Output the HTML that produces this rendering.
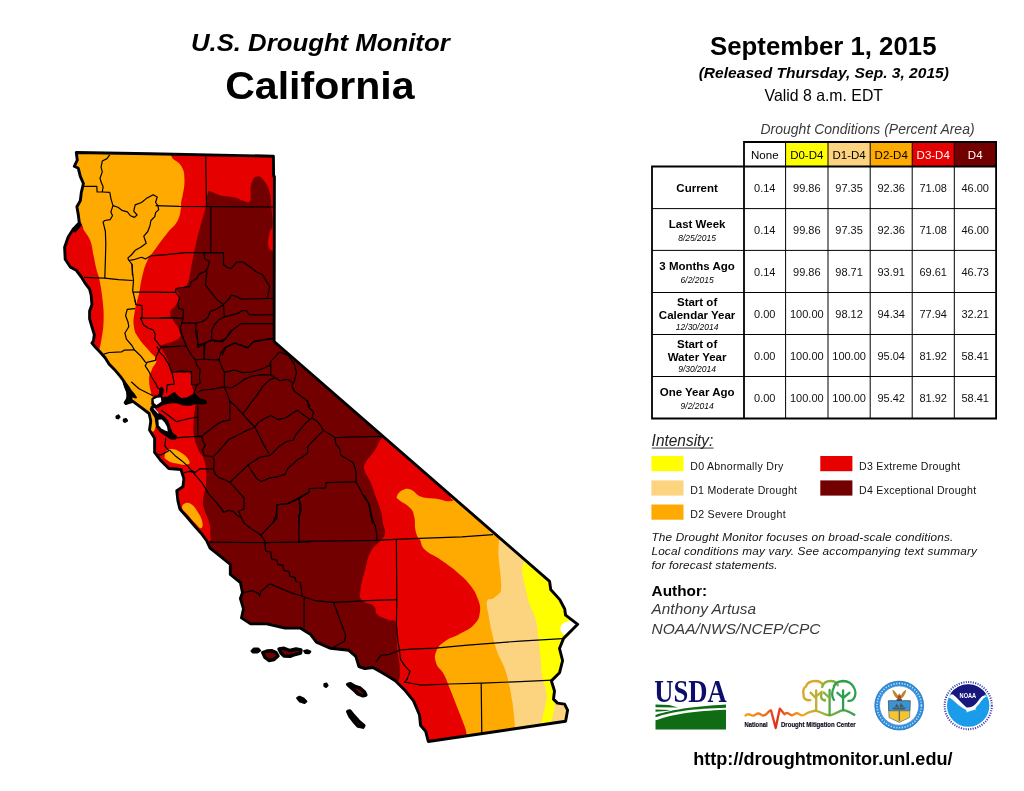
<!DOCTYPE html>
<html><head><meta charset="utf-8"><title>U.S. Drought Monitor - California</title>
<style>
html,body{margin:0;padding:0;background:#fff;}
body{width:1024px;height:791px;position:relative;overflow:hidden;font-family:"Liberation Sans",Arial,sans-serif;color:#000;}
.t{position:absolute;white-space:nowrap;line-height:1;}
.c{text-align:center;}
</style></head><body>
<svg width="1024" height="791" viewBox="0 0 1024 791" style="position:absolute;left:0;top:0">
<defs><clipPath id="st"><polygon points="76.3,152.5 150.0,153.8 273.4,156.2 273.6,176.0 274.4,176.5 274.1,341.5 549.6,581.4 550.7,589.5 559.8,599.6 564.7,609.0 565.6,615.2 577.7,624.3 563.6,638.4 559.5,648.5 562.6,660.7 559.5,672.8 551.4,680.9 554.5,691.0 553.5,699.1 557.5,703.1 564.6,704.1 567.6,710.2 565.6,721.3 428.3,741.5 425.6,731.2 420.5,725.2 419.5,715.0 413.5,700.9 405.4,690.8 395.3,680.7 385.2,674.6 373.0,667.5 364.9,668.5 358.9,666.5 355.8,656.4 348.8,650.3 330.6,648.3 316.4,642.2 310.3,634.2 300.2,628.1 284.9,628.0 266.7,623.9 250.6,623.9 241.5,617.9 243.5,608.8 240.4,598.6 242.5,592.6 240.4,582.5 230.3,574.4 230.3,564.3 220.2,556.2 210.1,548.1 206.5,540.5 201.1,533.2 194.0,525.2 187.0,517.0 179.9,509.0 177.9,500.9 176.8,490.8 182.9,486.7 183.9,478.6 180.9,469.5 168.8,468.5 160.7,460.4 154.6,452.4 154.6,438.2 149.5,430.1 150.8,421.0 149.1,413.5 141.0,407.4 132.9,401.3 126.4,403.4 128.9,393.2 126.4,388.0 124.1,381.5 120.1,376.1 115.4,370.6 109.2,364.3 105.3,358.0 99.8,351.8 95.9,347.8 91.9,343.1 93.5,340.8 94.3,334.5 91.9,326.7 89.6,318.9 89.6,311.0 91.9,304.7 91.2,295.3 89.6,289.1 84.9,282.8 81.0,276.5 76.3,270.3 70.5,267.3 65.2,259.3 64.6,247.2 68.2,237.0 73.3,229.0 79.3,222.9 78.3,214.8 76.9,206.7 80.3,200.7 81.3,192.6 83.4,183.5 80.3,176.4 78.3,168.3 74.3,166.3 77.3,160.2"/></clipPath></defs>
<g clip-path="url(#st)">
<rect x="50" y="140" width="540" height="620" fill="#e60000"/>
<path d="M207.6 193.6 C208.8 190.1 207.6 191.1 210.7 191.6 C213.8 192.1 215.2 194.2 220.8 195.6 C226.4 197.0 229.7 196.4 234.9 197.6 C240.1 198.8 239.5 200.0 243.0 200.7 C246.5 201.4 248.2 204.5 250.1 200.7 C252.0 196.9 249.4 190.2 251.1 184.5 C252.8 178.8 253.9 176.9 257.2 176.4 C260.5 175.9 262.2 178.3 265.3 182.5 C268.4 186.7 268.9 189.0 270.3 194.6 C271.7 200.2 270.8 199.6 271.3 206.7 C271.8 213.8 272.9 219.1 272.5 225.0 C272.1 230.9 270.8 227.3 269.8 232.0 C268.8 236.7 267.6 240.6 268.2 245.0 C268.8 249.4 269.3 249.1 272.5 251.0 C275.7 252.9 279.1 246.2 282.0 253.0 C284.9 259.8 284.3 266.7 285.0 280.0 C285.7 293.3 285.0 297.2 285.0 310.0 C285.0 322.8 281.5 325.2 285.0 335.0 C288.5 344.8 287.2 339.9 300.0 352.0 C312.8 364.1 318.5 368.3 340.0 387.0 C361.5 405.7 382.2 420.1 392.0 432.0 C401.8 443.9 385.9 433.9 381.9 438.2 C377.9 442.5 378.6 444.6 374.8 450.3 C371.0 456.0 368.1 457.8 365.7 462.5 C363.3 467.2 363.5 465.9 364.7 470.6 C365.9 475.3 368.2 476.6 370.8 482.7 C373.4 488.8 373.4 490.2 375.8 496.8 C378.2 503.4 379.2 504.9 380.9 511.0 C382.6 517.1 382.0 517.9 382.9 523.1 C383.8 528.3 385.4 529.2 384.9 533.2 C384.4 537.2 384.2 536.1 380.9 540.3 C377.6 544.5 374.4 544.9 370.8 551.4 C367.2 557.9 368.0 558.9 365.6 568.0 C363.2 577.1 361.1 583.0 360.4 590.6 C359.7 598.2 359.4 597.2 362.5 600.7 C365.6 604.2 370.1 602.4 373.6 605.7 C377.1 609.0 374.1 611.5 377.6 614.8 C381.1 618.1 384.6 618.0 388.8 619.9 C393.0 621.8 393.9 618.0 395.8 622.9 C397.7 627.8 396.3 634.0 396.8 641.1 C397.3 648.2 397.2 647.5 397.9 653.2 C398.6 658.9 399.3 659.5 399.6 665.4 C399.9 671.3 400.6 673.8 399.3 678.6 C398.0 683.4 398.5 679.8 394.0 686.0 C389.5 692.2 427.6 700.6 380.0 705.0 C332.4 709.4 234.3 742.3 190.0 705.0 C145.7 667.7 185.8 583.2 190.0 545.0 C194.2 506.8 203.5 543.6 208.2 541.3 C212.9 539.0 210.0 539.5 210.2 535.3 C210.4 531.1 210.6 529.2 209.2 523.1 C207.8 517.0 205.5 514.6 204.1 509.0 C202.7 503.4 202.6 505.5 203.1 498.9 C203.6 492.3 205.9 489.5 206.2 480.7 C206.5 471.9 206.3 468.2 204.5 461.0 C202.7 453.8 200.9 455.8 198.5 450.0 C196.1 444.2 195.1 443.0 194.0 436.0 C192.9 429.0 193.5 426.5 193.7 420.0 C193.9 413.5 194.6 413.3 195.0 408.0 C195.4 402.7 196.4 402.6 195.6 397.3 C194.8 392.0 192.8 390.6 191.6 385.2 C190.4 379.8 192.9 376.8 190.5 374.0 C188.1 371.2 185.9 373.7 181.4 373.0 C176.9 372.3 174.6 374.3 171.3 371.0 C168.0 367.7 169.9 364.8 167.3 358.9 C164.7 353.0 161.2 349.0 160.2 345.7 C159.2 342.4 159.0 346.4 163.2 344.7 C167.4 343.0 174.6 341.9 178.4 338.6 C182.2 335.3 180.6 334.8 179.4 330.6 C178.2 326.4 175.5 324.6 173.4 320.4 C171.3 316.2 169.6 316.2 170.3 312.4 C171.0 308.6 174.3 308.1 176.4 304.3 C178.5 300.5 179.4 299.9 179.4 296.2 C179.4 292.5 175.4 290.7 176.4 288.6 C177.4 286.5 180.8 288.4 183.5 287.0 C186.2 285.6 186.1 287.5 188.0 282.5 C189.9 277.5 189.7 274.1 191.5 265.4 C193.3 256.7 193.5 254.6 195.6 245.2 C197.7 235.8 198.3 233.9 200.7 224.9 C203.1 215.9 204.1 214.0 205.7 206.7 C207.3 199.4 206.4 197.1 207.6 193.6Z" fill="#730000" />
<path d="M171.0 145.0 C197.0 147.6 168.9 151.2 171.3 156.2 C173.7 161.2 178.3 160.7 181.4 166.3 C184.5 171.9 184.3 173.3 184.5 180.4 C184.7 187.5 183.1 191.9 182.4 196.6 C181.7 201.3 182.3 195.5 181.4 200.7 C180.5 205.9 181.7 211.4 178.4 218.9 C175.1 226.4 172.7 225.9 167.3 233.0 C161.9 240.1 159.9 242.6 155.2 249.2 C150.5 255.8 150.2 254.7 147.1 261.3 C144.0 267.9 143.9 269.9 142.0 277.5 C140.1 285.1 140.7 286.0 139.0 293.7 C137.3 301.4 136.1 302.6 134.9 310.3 C133.7 318.0 132.9 319.9 133.9 326.5 C134.9 333.1 135.5 332.9 139.0 338.6 C142.5 344.3 145.1 345.8 149.1 350.8 C153.1 355.8 155.5 355.7 156.2 359.9 C156.9 364.1 153.8 364.5 152.1 369.0 C150.4 373.5 149.3 373.5 149.1 379.1 C148.9 384.7 150.3 389.2 151.1 393.2 C151.9 397.2 151.8 394.2 152.5 396.3 C153.2 398.4 153.9 399.3 154.0 402.0 C154.1 404.7 153.5 405.0 153.0 408.0 C152.5 411.0 155.0 412.7 152.0 415.0 C149.0 417.3 147.5 418.7 140.0 418.0 C132.5 417.3 132.8 427.9 120.0 412.0 C107.2 396.1 90.0 364.5 85.0 350.0 C80.0 335.5 95.1 350.1 98.5 349.8 C101.9 349.5 98.8 351.4 99.5 348.8 C100.2 346.2 100.6 345.2 101.6 338.6 C102.6 332.0 103.4 329.4 103.6 320.4 C103.8 311.4 103.6 309.6 102.6 300.2 C101.6 290.8 100.9 287.2 99.5 280.0 C98.1 272.8 97.9 275.2 96.5 269.4 C95.1 263.6 94.9 261.9 93.5 255.3 C92.1 248.7 92.5 246.8 90.4 241.1 C88.3 235.4 87.0 235.0 84.4 231.0 C81.8 227.0 85.0 226.0 79.3 223.9 C73.6 221.8 64.5 240.4 60.0 222.0 C55.5 203.6 34.1 163.0 60.0 145.0 C85.9 127.0 145.0 142.4 171.0 145.0Z" fill="#ffaa00" />
<path d="M150.0 417.0 C151.1 414.0 154.3 414.2 155.5 417.0 C156.7 419.8 156.1 426.0 155.0 429.0 C153.9 432.0 152.2 432.8 151.0 430.0 C149.8 427.2 148.9 420.0 150.0 417.0Z" fill="#ffaa00" />
<path d="M164.7 455.4 C165.2 452.8 166.0 450.0 169.8 449.3 C173.6 448.6 176.4 449.8 180.9 452.4 C185.4 455.0 187.6 457.6 189.0 460.4 C190.4 463.2 189.8 463.8 187.0 464.5 C184.2 465.2 181.3 464.5 176.8 463.5 C172.3 462.5 170.5 462.3 167.7 460.4 C164.9 458.5 164.2 458.0 164.7 455.4Z" fill="#ffaa00" />
<path d="M183.9 503.9 C185.9 502.7 187.9 502.2 191.0 503.9 C194.1 505.6 194.5 507.0 197.1 511.0 C199.7 515.0 201.2 517.1 202.1 521.1 C203.0 525.1 202.8 527.7 201.1 528.2 C199.4 528.7 198.3 526.4 195.0 523.1 C191.7 519.8 189.9 517.3 187.0 514.0 C184.1 510.7 183.2 511.4 182.5 509.0 C181.8 506.6 181.9 505.1 183.9 503.9Z" fill="#ffaa00" />
<path d="M470.0 495.0 C435.4 496.4 459.3 500.0 451.7 500.9 C444.1 501.8 444.6 499.9 437.5 498.9 C430.4 497.9 427.4 498.9 421.3 496.8 C415.2 494.7 415.4 491.4 411.2 489.8 C407.0 488.2 406.4 488.4 403.1 489.8 C399.8 491.2 398.0 493.4 397.1 495.8 C396.2 498.2 396.0 497.1 399.1 499.9 C402.2 502.7 406.7 504.0 410.2 508.0 C413.7 512.0 413.1 512.2 414.3 517.1 C415.5 522.0 414.4 524.3 415.3 529.2 C416.2 534.1 417.2 535.8 418.3 538.3 C419.4 540.8 418.5 537.2 420.1 540.0 C421.7 542.8 420.3 545.4 425.2 550.1 C430.1 554.8 433.8 555.0 441.3 560.2 C448.8 565.4 450.9 566.7 457.5 572.4 C464.1 578.1 464.9 578.4 469.6 584.5 C474.3 590.6 475.3 592.0 477.7 598.6 C480.1 605.2 480.7 606.7 479.8 612.8 C478.9 618.9 478.4 620.0 473.7 624.9 C469.0 629.8 466.1 630.2 459.5 634.0 C452.9 637.8 450.8 637.1 445.4 641.1 C440.0 645.1 438.4 646.0 436.3 651.2 C434.2 656.4 434.6 658.2 436.3 663.4 C438.0 668.6 440.3 667.9 443.4 673.5 C446.5 679.1 446.4 680.2 449.4 687.6 C452.4 695.0 453.1 696.8 456.4 705.2 C459.7 713.6 461.1 716.8 463.5 723.4 C465.9 730.0 465.4 727.3 466.5 733.5 C467.6 739.7 436.9 746.1 468.0 750.0 C499.1 753.9 569.2 809.5 600.0 750.0 C630.8 690.5 630.3 554.5 600.0 495.0 C569.7 435.5 504.6 493.6 470.0 495.0Z" fill="#ffaa00" />
<path d="M500.0 530.0 C476.5 532.1 499.5 533.2 499.1 539.0 C498.8 544.8 498.2 546.6 498.5 555.0 C498.8 563.4 499.9 567.0 500.5 575.0 C501.1 583.0 501.4 585.2 501.0 589.5 C500.6 593.8 500.9 591.4 499.0 593.5 C497.1 595.6 495.8 596.6 493.0 598.5 C490.2 600.4 488.0 597.3 487.0 601.5 C486.0 605.7 487.6 609.1 488.8 616.5 C490.0 623.9 490.1 625.0 492.0 633.0 C493.9 641.0 494.1 642.8 497.0 651.0 C499.9 659.2 501.7 660.3 504.5 668.0 C507.3 675.7 507.2 676.5 509.0 684.0 C510.8 691.5 511.1 694.6 512.0 700.0 C512.9 705.4 512.3 700.6 513.0 707.0 C513.7 713.4 514.3 718.5 515.0 727.4 C515.7 736.3 496.2 740.9 516.0 745.0 C535.8 749.1 580.4 795.2 600.0 745.0 C619.6 694.8 623.3 580.2 600.0 530.0 C576.7 479.8 523.5 527.9 500.0 530.0Z" fill="#fcd37f" />
<path d="M527.0 555.0 C509.3 556.6 525.1 558.2 524.0 562.0 C522.9 565.8 522.0 565.3 522.3 571.3 C522.6 577.2 523.7 579.9 525.4 587.5 C527.1 595.1 527.1 596.5 529.4 603.7 C531.7 610.9 533.2 610.6 535.3 618.2 C537.4 625.8 537.1 627.4 538.3 636.4 C539.5 645.4 539.4 647.2 540.3 656.6 C541.2 666.0 540.9 668.3 542.3 676.8 C543.7 685.3 545.7 686.4 546.4 693.0 C547.1 699.6 546.6 698.1 545.4 705.2 C544.2 712.3 542.4 715.3 541.3 723.4 C540.2 731.5 526.8 736.1 540.5 740.0 C554.2 743.9 586.1 783.2 600.0 740.0 C613.9 696.8 617.0 598.2 600.0 555.0 C583.0 511.8 544.7 553.4 527.0 555.0Z" fill="#ffff00" />
<path d="M557.5 702.0 C551.5 704.1 555.7 705.6 554.5 709.2 C553.3 712.8 553.3 714.2 552.5 717.3 C551.7 720.4 551.6 718.2 551.2 722.3 C550.9 726.4 544.3 732.0 551.0 735.0 C557.7 738.0 573.2 743.2 580.0 735.0 C586.8 726.8 585.2 707.7 580.0 700.0 C574.8 692.3 563.5 699.9 557.5 702.0Z" fill="#fcd37f" />
<path d="M560.5 627.3 C561.0 624.5 562.5 623.8 565.6 622.2 C568.7 620.6 569.9 621.0 573.7 620.5 C577.5 620.0 580.1 618.2 582.0 620.0 C583.9 621.8 584.9 625.1 582.0 628.0 C579.1 630.9 573.9 630.9 569.6 632.4 C565.3 633.9 565.7 635.6 563.6 634.4 C561.5 633.2 560.0 630.1 560.5 627.3Z" fill="#ffffff" />
</g>
<g fill="none" stroke="#000" stroke-width="1.2" stroke-linejoin="round" clip-path="url(#st)">
<path d="M109.8 154.7 L107.0 158.6 L102.3 161.0 L101.1 167.2 L102.3 171.9 L100.0 178.2 L101.1 182.1 L103.1 186.8 L102.3 192.0"/>
<path d="M83.5 186.4 L96.8 186.4 L97.1 192.0 L102.3 192.0 L109.8 192.3"/>
<path d="M109.8 192.3 L110.9 198.6 L113.0 205.6 L110.9 211.9 L112.5 215.8 L110.1 219.7 L104.7 220.5 L103.1 222.1 L105.4 231.5 L105.8 244.0 L105.4 259.7 L104.8 278.5"/>
<path d="M129.0 260.5 L132.1 264.4 L132.4 275.4"/>
<path d="M113.0 205.6 L118.0 207.2 L121.9 210.3 L127.4 211.9 L130.5 215.8 L134.4 217.4 L137.1 215.0 L133.7 211.1 L135.2 204.9 L141.5 202.5 L146.2 198.6 L153.2 194.7 L157.2 197.0 L155.6 202.5 L157.9 205.6"/>
<path d="M155.6 205.6 L179.1 206.4 L220.0 206.7 L274.7 207.0"/>
<path d="M157.9 205.6 L158.7 209.6 L155.6 212.7 L154.8 216.6 L150.9 220.5 L150.1 225.2 L147.8 231.5 L143.8 236.2 L146.2 243.2 L140.7 247.2 L135.2 250.3 L131.3 255.0 L127.7 258.1"/>
<path d="M127.7 258.1 L129.0 260.5 L133.7 259.7 L141.5 257.3 L145.4 258.9 L150.9 255.8 L166.6 254.7 L185.4 252.6 L202.6 252.6 L220.0 252.6"/>
<path d="M205.7 156.3 L206.1 181.3 L206.5 206.4"/>
<path d="M210.8 206.7 L210.8 252.6"/>
<path d="M203.9 252.7 L223.5 252.7 L223.5 264.5 L227.4 267.6 L231.3 268.4 L236.8 262.1 L243.1 262.1 L250.9 267.6 L257.2 272.3 L262.6 274.7 L265.8 280.1 L269.7 286.4 L267.3 298.5"/>
<path d="M273.6 298.5 L267.3 298.5 L241.5 299.1 L236.8 296.6 L231.3 295.0 L229.0 299.0 L223.5 304.4"/>
<path d="M203.9 252.7 L204.7 259.0 L209.4 261.3 L207.8 267.6 L205.4 271.5 L199.2 273.9 L196.8 278.6 L191.3 281.7 L189.8 286.7 L175.7 288.5"/>
<path d="M160.0 292.4 L175.7 292.4"/>
<path d="M175.7 288.5 L175.7 292.4 L176.5 293.5 L179.6 297.4 L177.7 303.7 L178.8 308.4 L183.5 309.9 L183.2 317.8 L181.9 322.8"/>
<path d="M207.0 271.1 L205.4 284.9 L210.1 291.1 L216.4 299.0 L223.5 304.4"/>
<path d="M223.5 304.4 L220.3 306.8 L214.9 309.9 L210.1 311.5 L207.8 317.8 L202.3 321.7 L196.0 323.2 L181.9 322.9"/>
<path d="M223.5 304.9 L224.3 317.0 L218.8 320.1 L214.9 324.0 L211.7 330.3 L211.7 339.7"/>
<path d="M224.3 317.0 L230.5 315.4 L238.4 313.1 L241.5 310.7 L246.2 310.7 L249.3 314.6 L260.3 314.9 L273.6 314.6"/>
<path d="M211.7 339.7 L214.9 341.3 L222.7 341.6 L227.4 336.6 L232.1 330.3 L238.4 325.6 L241.5 323.6 L273.6 323.6"/>
<path d="M160.0 318.1 L171.8 317.3 L181.9 318.5"/>
<path d="M181.9 322.8 L180.4 327.2 L181.2 333.4 L183.5 338.1"/>
<path d="M196.0 323.2 L195.7 331.9 L197.6 339.7 L197.6 347.5"/>
<path d="M197.6 347.5 L205.4 342.8 L211.7 339.7"/>
<path d="M203.9 343.1 L203.9 355.4"/>
<path d="M221.9 355.4 L225.8 347.5 L235.2 342.8 L241.5 346.0 L247.8 347.5 L254.0 341.3 L263.4 339.7 L273.6 338.1"/>
<path d="M84.1 277.3 L104.5 278.1"/>
<path d="M104.5 278.1 L118.6 279.7 L132.7 280.5"/>
<path d="M131.9 264.0 L132.7 273.4 L133.5 280.5 L132.7 290.6 L135.0 300.0 L135.8 304.7"/>
<path d="M132.7 292.2 L160.9 292.2"/>
<path d="M135.0 308.7 L127.2 309.4 L125.6 315.7 L128.0 322.0 L128.8 326.7 L124.9 333.0 L126.4 339.2 L131.9 345.5 L134.3 349.7 L140.5 355.7 L145.2 361.9 L146.8 363.0"/>
<path d="M135.0 300.0 L135.8 304.7 L142.1 305.5 L142.1 317.3 L140.5 318.1"/>
<path d="M140.5 318.1 L182.8 318.1"/>
<path d="M140.5 318.1 L143.7 325.1 L148.4 328.3 L153.1 329.8 L155.4 334.5 L154.6 339.2 L158.5 343.9 L160.9 347.1"/>
<path d="M103.7 354.1 L109.2 352.5 L121.7 351.8 L124.1 350.2 L134.3 349.9"/>
<path d="M146.8 362.4 L155.4 360.4 L156.2 356.5 L158.5 351.8 L160.9 347.1"/>
<path d="M146.8 363.0 L145.2 365.9 L148.4 370.6 L151.5 376.8 L155.4 383.1 L157.8 388.0 L161.1 389.4"/>
<path d="M160.9 347.1 L173.4 346.6 L186.8 345.8"/>
<path d="M179.8 330.0 L183.7 339.4 L186.8 347.2 L191.5 355.1 L195.4 359.8 L197.0 366.0 L200.1 369.2 L199.4 377.0 L200.1 383.3 L197.0 384.9 L193.9 392.7 L197.0 399.0"/>
<path d="M157.1 346.5 L159.4 351.9 L164.1 356.6 L168.8 364.5 L171.2 370.7 L172.7 375.4 L174.3 384.1 L167.2 384.9 L166.5 392.7"/>
<path d="M171.9 372.3 L181.3 371.1 L191.5 371.5 L191.5 384.5 L197.0 384.9"/>
<path d="M197.0 330.0 L197.8 344.9 L204.9 343.3 L204.1 359.0 L196.2 359.8"/>
<path d="M204.9 343.3 L212.7 340.2 L219.0 341.0 L225.2 339.4 L228.4 334.7 L231.5 330.0"/>
<path d="M204.1 359.3 L219.0 359.8"/>
<path d="M219.0 359.8 L220.5 353.5 L225.2 347.2 L234.6 343.3 L240.9 344.9 L247.2 348.0 L253.4 341.8 L262.8 340.2 L273.8 338.6"/>
<path d="M219.0 359.8 L222.1 367.6 L224.4 372.3 L224.4 386.7"/>
<path d="M224.4 372.3 L234.6 370.0 L242.5 372.6 L251.9 372.0 L261.3 369.2 L269.9 365.3 L270.7 361.3 L275.4 356.6 L279.3 351.9"/>
<path d="M270.7 362.9 L270.7 375.0"/>
<path d="M224.4 386.9 L231.5 388.0 L239.3 383.3 L245.6 378.6 L251.9 376.2 L262.8 374.7 L270.7 375.0 L275.4 377.8 L280.1 380.9 L286.3 379.4 L289.5 380.1 L292.6 383.3"/>
<path d="M197.0 392.7 L201.7 390.3 L212.7 389.2 L224.4 386.9"/>
<path d="M224.4 386.9 L226.8 392.7 L229.9 401.3 L229.9 420.4"/>
<path d="M229.9 401.3 L236.2 406.8 L242.5 413.8 L250.3 422.5 L255.0 427.2"/>
<path d="M242.5 413.8 L247.2 408.4 L250.3 403.7 L256.6 395.8 L262.8 386.4 L269.1 380.1 L275.4 377.8"/>
<path d="M279.3 351.9 L287.9 355.1 L294.2 363.7 L296.5 372.3 L294.2 381.7 L291.8 385.6 L294.2 391.1 L300.4 395.8 L306.7 400.5 L310.0 406.8"/>
<path d="M255.0 427.2 L258.1 422.5 L266.0 417.8 L270.0 416.2"/>
<path d="M255.0 427.2 L247.2 430.3 L237.8 435.0 L228.4 439.7"/>
<path d="M255.0 427.2 L259.7 436.6 L264.4 446.0 L269.1 454.0"/>
<path d="M229.9 420.4 L223.7 420.9 L217.4 424.0 L211.1 428.7 L203.3 435.0 L201.7 436.6"/>
<path d="M201.7 436.6 L197.0 436.3 L181.3 437.3 L173.5 438.1"/>
<path d="M197.8 405.2 L197.8 435.0 L201.7 436.6 L203.0 439.7"/>
<path d="M161.0 409.9 L167.2 414.6 L176.6 421.7 L189.2 418.5 L197.8 417.0"/>
<path d="M165.7 438.1 L164.9 446.0 L168.8 450.7"/>
<path d="M131.2 381.7 L139.0 388.8 L148.4 393.5 L153.1 395.8"/>
<path d="M307.6 400.0 L308.4 407.1 L313.6 411.8 L312.0 418.0 L310.0 419.6"/>
<path d="M270.0 414.9 L277.8 419.6 L285.7 418.0 L293.5 412.5 L297.4 410.2 L303.7 414.9 L310.0 419.6"/>
<path d="M312.0 418.0 L317.0 421.2 L320.9 425.9 L323.3 430.6 L330.3 434.5 L335.0 437.6"/>
<path d="M335.0 437.6 L356.2 436.8 L382.8 436.4"/>
<path d="M335.0 437.6 L335.8 443.9 L339.7 448.6 L340.5 454.9 L346.8 458.8 L353.1 462.7 L355.4 469.0 L356.2 475.2 L355.9 481.8"/>
<path d="M355.9 481.8 L360.1 489.3 L364.0 497.2 L368.7 503.4 L370.3 512.8 L372.6 524.0"/>
<path d="M355.9 481.8 L326.1 482.6 L325.6 487.8 L309.2 488.5 L308.9 492.5 L299.8 497.9 L290.4 502.6 L285.7 504.2 L277.1 504.5 L276.3 514.4 L272.4 524.0"/>
<path d="M299.3 498.4 L299.8 509.7 L299.0 524.0"/>
<path d="M310.0 419.6 L306.0 422.7 L300.6 429.0 L295.9 434.5 L293.5 440.0 L286.5 441.5 L279.4 446.2 L273.1 452.5 L270.0 455.6"/>
<path d="M322.5 431.3 L317.0 436.8 L310.0 443.9 L307.6 447.0 L307.6 453.3 L302.1 457.2 L297.4 459.6 L293.5 463.5 L288.0 468.2 L284.9 474.4 L277.8 476.8 L270.0 477.9"/>
<path d="M169.6 450.2 L175.1 455.7 L181.3 460.4 L187.6 465.9 L191.5 470.6 L195.4 472.4"/>
<path d="M154.7 454.1 L161.0 454.9 L165.7 452.5 L169.6 450.2"/>
<path d="M183.7 472.9 L189.2 471.3 L195.4 472.4 L200.1 468.7 L213.5 469.0"/>
<path d="M202.5 440.0 L205.2 445.5 L202.5 450.2 L204.1 455.7 L211.9 456.5 L214.3 459.6 L213.5 469.0"/>
<path d="M213.5 456.5 L219.0 451.0 L224.4 444.7 L228.4 440.0"/>
<path d="M213.5 469.0 L215.0 473.7 L219.0 477.6 L225.2 480.0 L229.9 482.3"/>
<path d="M229.9 482.3 L247.9 465.1 L259.7 457.2 L270.0 455.5"/>
<path d="M247.9 465.1 L251.9 471.3 L256.6 478.4 L261.3 481.5 L270.0 477.9"/>
<path d="M229.9 482.3 L237.8 490.9 L244.0 498.0 L244.0 509.0 L238.5 511.3 L240.9 516.8"/>
<path d="M192.3 471.3 L197.0 476.8 L201.7 482.3 L205.6 488.6 L208.8 494.1 L215.8 501.9 L220.5 507.4 L223.7 512.4 L228.4 510.5 L233.1 511.3 L237.8 516.0 L240.9 516.8"/>
<path d="M240.9 516.8 L244.0 523.1 L251.9 529.3 L259.7 534.0 L263.6 538.7 L265.2 542.6"/>
<path d="M209.6 542.2 L265.2 542.6 L310.0 541.9"/>
<path d="M261.3 534.8 L276.9 518.4 L276.6 505.0 L287.9 503.5 L298.1 498.0 L306.7 493.3 L310.0 491.7"/>
<path d="M298.1 498.0 L301.2 505.8 L300.4 513.7 L298.9 515.2 L298.9 541.9"/>
<path d="M264.7 541.4 L265.7 551.1 L270.8 552.1 L271.8 559.2 L276.8 560.2 L277.9 564.3 L282.9 565.3 L283.9 570.3 L289.0 571.3 L290.0 576.4 L295.0 577.4 L296.1 581.5 L300.1 582.5 L301.1 587.5 L302.1 596.0"/>
<path d="M243.5 592.6 L252.6 590.6 L258.6 593.6 L259.7 596.6 L260.7 591.6 L268.8 584.5 L270.8 584.1 L280.9 588.5 L291.0 592.6 L302.1 596.2"/>
<path d="M302.1 596.2 L315.3 600.7 L333.5 602.3 L367.8 600.7 L397.2 599.7"/>
<path d="M304.1 597.6 L304.1 627.4"/>
<path d="M333.5 602.3 L339.5 618.9 L345.6 635.0 L344.6 641.1 L331.4 648.2"/>
<path d="M300.0 541.3 L376.8 540.3 L395.0 539.3 L419.3 538.3 L461.8 536.9 L493.1 534.7"/>
<path d="M364.4 495.3 L366.8 500.0 L369.9 506.3 L371.5 515.7 L375.4 526.6 L377.0 536.0 L375.9 541.1"/>
<path d="M396.4 540.0 L396.8 600.7 L396.4 624.9 L397.9 641.1 L399.5 650.2"/>
<path d="M399.5 650.2 L389.8 654.3 L380.7 655.3 L375.6 662.3"/>
<path d="M399.5 650.2 L411.0 649.2 L435.3 648.2 L467.6 645.2 L493.9 643.1 L520.0 641.1 L562.7 638.7"/>
<path d="M399.5 650.2 L400.5 659.3 L404.9 665.8 L410.0 671.4 L407.0 679.5 L403.9 682.6"/>
<path d="M403.9 682.0 L415.0 684.0 L421.1 685.2 L449.4 684.0 L481.8 683.2 L520.0 681.6 L552.6 680.1"/>
<path d="M481.2 683.6 L481.8 734.1"/>
</g>
<g id="bay" stroke="#000" stroke-width="1.9" stroke-linejoin="round">
<path d="M161.5 387.8 L162.8 389.5 L162.3 393 L161 396.5 L163 398 L168 397.5 L172.5 394 L174.5 393.2 L177 396 L181 399 L187 398.5 L192 395.5 L194.5 394.2 L197 397 L200.5 399.5 L205.5 401 L206 403 L200 403.5 L196 403 L190 404.8 L183 404.6 L178 402.5 L172 402 L167 403 L162 404.5 L158 407 L154.5 407.5 L152.2 404 L152.3 399 L155 396.8 L158.5 396 L160 393 L160 389 Z" fill="#000"/>
<path d="M153.6 399.4 L157 397.8 L160.8 397.6 L161.4 401.4 L158.8 403.6 L156.4 405 L154 403 Z" fill="#fff" stroke="none"/>
<path d="M152 406.5 L158.8 413.8 L163 416.5 L167.6 421.5 L170 429 L172 433.5 L176 436.2 L175.5 438.6 L171 438.6 L165.5 435 L160.5 431.5 L157 427 L156 421 L155.6 417.6 L153 413 L150.6 409.5 Z" fill="#000"/>
<path d="M158.4 419.8 L161.8 419.6 L164.6 422.6 L167 426.8 L167.8 431.4 L165 430.6 L161.4 428.4 L158.8 425.6 Z" fill="#fff" stroke="none"/>
<path d="M153.4 408.4 L154.4 408 L158.8 413 L158.2 413.8 Z" fill="#fff" stroke="none"/>
<path d="M123.3 381.5 L125.5 383 L128.2 386.6 L130.5 390.5 L134 394.5 L136 397.5 L131 396.2 L131.8 400.5 L128.5 402 L125.6 404 L124.6 402.6 L127.6 398 L127 392 L125 387 Z" fill="#000"/>
<path d="M79.3 222.3 L81 224.6 L77.8 228.6 L74.8 231.6 L73.6 230 L76.2 225.6 Z" fill="#000"/>
</g>

<polygon points="76.3,152.5 150.0,153.8 273.4,156.2 273.6,176.0 274.4,176.5 274.1,341.5 549.6,581.4 550.7,589.5 559.8,599.6 564.7,609.0 565.6,615.2 577.7,624.3 563.6,638.4 559.5,648.5 562.6,660.7 559.5,672.8 551.4,680.9 554.5,691.0 553.5,699.1 557.5,703.1 564.6,704.1 567.6,710.2 565.6,721.3 428.3,741.5 425.6,731.2 420.5,725.2 419.5,715.0 413.5,700.9 405.4,690.8 395.3,680.7 385.2,674.6 373.0,667.5 364.9,668.5 358.9,666.5 355.8,656.4 348.8,650.3 330.6,648.3 316.4,642.2 310.3,634.2 300.2,628.1 284.9,628.0 266.7,623.9 250.6,623.9 241.5,617.9 243.5,608.8 240.4,598.6 242.5,592.6 240.4,582.5 230.3,574.4 230.3,564.3 220.2,556.2 210.1,548.1 206.5,540.5 201.1,533.2 194.0,525.2 187.0,517.0 179.9,509.0 177.9,500.9 176.8,490.8 182.9,486.7 183.9,478.6 180.9,469.5 168.8,468.5 160.7,460.4 154.6,452.4 154.6,438.2 149.5,430.1 150.8,421.0 149.1,413.5 141.0,407.4 132.9,401.3 126.4,403.4 128.9,393.2 126.4,388.0 124.1,381.5 120.1,376.1 115.4,370.6 109.2,364.3 105.3,358.0 99.8,351.8 95.9,347.8 91.9,343.1 93.5,340.8 94.3,334.5 91.9,326.7 89.6,318.9 89.6,311.0 91.9,304.7 91.2,295.3 89.6,289.1 84.9,282.8 81.0,276.5 76.3,270.3 70.5,267.3 65.2,259.3 64.6,247.2 68.2,237.0 73.3,229.0 79.3,222.9 78.3,214.8 76.9,206.7 80.3,200.7 81.3,192.6 83.4,183.5 80.3,176.4 78.3,168.3 74.3,166.3 77.3,160.2" fill="none" stroke="#000" stroke-width="2.9" stroke-linejoin="round"/>
<polygon points="251.6,651.0 254.0,648.5 258.0,648.5 260.0,650.5 257.0,652.5 253.0,652.5" fill="#000" stroke="#000" stroke-width="2.2" stroke-linejoin="round"/>
<polygon points="262.7,652.5 267.0,651.0 272.0,650.8 276.0,652.5 278.0,656.0 274.0,659.5 269.0,660.5 265.0,657.5" fill="#730000" stroke="#000" stroke-width="3.4" stroke-linejoin="round"/>
<polygon points="279.0,649.0 284.0,648.3 290.0,650.5 296.0,649.0 301.0,650.0 300.5,653.0 295.0,654.5 290.0,656.3 284.0,656.0 281.0,653.0" fill="#730000" stroke="#000" stroke-width="3.4" stroke-linejoin="round"/>
<polygon points="304.2,651.0 307.0,650.3 310.2,651.5 309.0,653.2 305.5,653.0" fill="#000" stroke="#000" stroke-width="2.2" stroke-linejoin="round"/>
<polygon points="324.5,684.0 326.5,683.7 327.5,685.5 326.0,686.9 324.5,686.0" fill="#000" stroke="#000" stroke-width="2.2" stroke-linejoin="round"/>
<polygon points="347.7,684.5 350.5,683.7 355.0,686.5 360.0,688.0 364.5,692.0 365.9,695.0 363.0,695.8 358.0,694.0 355.0,691.0 351.5,688.0" fill="#730000" stroke="#000" stroke-width="3.4" stroke-linejoin="round"/>
<polygon points="297.2,698.0 299.5,696.8 303.5,698.5 306.3,701.5 304.5,702.9 300.0,701.5" fill="#000" stroke="#000" stroke-width="2.2" stroke-linejoin="round"/>
<polygon points="347.7,711.5 350.0,711.0 354.0,716.0 358.5,721.0 363.9,725.5 363.0,727.2 358.0,726.0 353.5,721.0 350.0,716.5" fill="#730000" stroke="#000" stroke-width="3.4" stroke-linejoin="round"/>
<polygon points="116.5,416.5 118.5,415.5 119.5,417.0 118.0,418.3 116.7,418.0" fill="#000" stroke="#000" stroke-width="2.2" stroke-linejoin="round"/>
<polygon points="124.0,419.5 126.0,419.0 127.0,420.8 125.0,421.8 123.8,421.0" fill="#000" stroke="#000" stroke-width="2.2" stroke-linejoin="round"/>
</svg>

<svg width="1024" height="791" viewBox="0 0 1024 791" style="position:absolute;left:0;top:0" font-family="Liberation Sans, Arial, sans-serif">
<rect x="744.0" y="142.0" width="41.6" height="24.5" fill="#fff"/>
<rect x="785.6" y="142.0" width="42.4" height="24.5" fill="#ffff00"/>
<rect x="828.0" y="142.0" width="42.2" height="24.5" fill="#fcd37f"/>
<rect x="870.2" y="142.0" width="42.0" height="24.5" fill="#ffaa00"/>
<rect x="912.2" y="142.0" width="42.1" height="24.5" fill="#e60000"/>
<rect x="954.3" y="142.0" width="41.8" height="24.5" fill="#730000"/>
<g stroke="#000" stroke-width="1" fill="none">
<line x1="785.6" y1="142.0" x2="785.6" y2="418.5"/>
<line x1="828.0" y1="142.0" x2="828.0" y2="418.5"/>
<line x1="870.2" y1="142.0" x2="870.2" y2="418.5"/>
<line x1="912.2" y1="142.0" x2="912.2" y2="418.5"/>
<line x1="954.3" y1="142.0" x2="954.3" y2="418.5"/>
<line x1="652.0" y1="208.6" x2="996.1" y2="208.6"/>
<line x1="652.0" y1="250.4" x2="996.1" y2="250.4"/>
<line x1="652.0" y1="292.5" x2="996.1" y2="292.5"/>
<line x1="652.0" y1="334.5" x2="996.1" y2="334.5"/>
<line x1="652.0" y1="376.5" x2="996.1" y2="376.5"/>
</g>
<g stroke="#000" stroke-width="1.8" fill="none" stroke-linecap="square">
<path d="M744.0 418.5 L744.0 142.0 L996.1 142.0 L996.1 418.5 L652.0 418.5 L652.0 166.5 L996.1 166.5"/>
</g>
<text x="764.8" y="159" font-size="11.5" text-anchor="middle" fill="#000">None</text>
<text x="806.8" y="159" font-size="11.5" text-anchor="middle" fill="#000">D0-D4</text>
<text x="849.1" y="159" font-size="11.5" text-anchor="middle" fill="#000">D1-D4</text>
<text x="891.2" y="159" font-size="11.5" text-anchor="middle" fill="#000">D2-D4</text>
<text x="933.2" y="159" font-size="11.5" text-anchor="middle" fill="#fff">D3-D4</text>
<text x="975.2" y="159" font-size="11.5" text-anchor="middle" fill="#fff">D4</text>
<text x="764.8" y="192.0" font-size="11" text-anchor="middle" fill="#111">0.14</text>
<text x="806.8" y="192.0" font-size="11" text-anchor="middle" fill="#111">99.86</text>
<text x="849.1" y="192.0" font-size="11" text-anchor="middle" fill="#111">97.35</text>
<text x="891.2" y="192.0" font-size="11" text-anchor="middle" fill="#111">92.36</text>
<text x="933.2" y="192.0" font-size="11" text-anchor="middle" fill="#111">71.08</text>
<text x="975.2" y="192.0" font-size="11" text-anchor="middle" fill="#111">46.00</text>
<text x="697.1" y="192.0" font-size="11.5" font-weight="bold" text-anchor="middle">Current</text>
<text x="764.8" y="233.9" font-size="11" text-anchor="middle" fill="#111">0.14</text>
<text x="806.8" y="233.9" font-size="11" text-anchor="middle" fill="#111">99.86</text>
<text x="849.1" y="233.9" font-size="11" text-anchor="middle" fill="#111">97.35</text>
<text x="891.2" y="233.9" font-size="11" text-anchor="middle" fill="#111">92.36</text>
<text x="933.2" y="233.9" font-size="11" text-anchor="middle" fill="#111">71.08</text>
<text x="975.2" y="233.9" font-size="11" text-anchor="middle" fill="#111">46.00</text>
<text x="697.1" y="227.9" font-size="11.5" font-weight="bold" text-anchor="middle">Last Week</text>
<text x="697.1" y="240.9" font-size="8.5" font-style="italic" text-anchor="middle">8/25/2015</text>
<text x="764.8" y="275.8" font-size="11" text-anchor="middle" fill="#111">0.14</text>
<text x="806.8" y="275.8" font-size="11" text-anchor="middle" fill="#111">99.86</text>
<text x="849.1" y="275.8" font-size="11" text-anchor="middle" fill="#111">98.71</text>
<text x="891.2" y="275.8" font-size="11" text-anchor="middle" fill="#111">93.91</text>
<text x="933.2" y="275.8" font-size="11" text-anchor="middle" fill="#111">69.61</text>
<text x="975.2" y="275.8" font-size="11" text-anchor="middle" fill="#111">46.73</text>
<text x="697.1" y="269.7" font-size="11.5" font-weight="bold" text-anchor="middle">3 Months Ago</text>
<text x="697.1" y="282.7" font-size="8.5" font-style="italic" text-anchor="middle">6/2/2015</text>
<text x="764.8" y="317.9" font-size="11" text-anchor="middle" fill="#111">0.00</text>
<text x="806.8" y="317.9" font-size="11" text-anchor="middle" fill="#111">100.00</text>
<text x="849.1" y="317.9" font-size="11" text-anchor="middle" fill="#111">98.12</text>
<text x="891.2" y="317.9" font-size="11" text-anchor="middle" fill="#111">94.34</text>
<text x="933.2" y="317.9" font-size="11" text-anchor="middle" fill="#111">77.94</text>
<text x="975.2" y="317.9" font-size="11" text-anchor="middle" fill="#111">32.21</text>
<text x="697.1" y="305.8" font-size="11.5" font-weight="bold" text-anchor="middle">Start of</text>
<text x="697.1" y="318.8" font-size="11.5" font-weight="bold" text-anchor="middle">Calendar Year</text>
<text x="697.1" y="330.1" font-size="8.5" font-style="italic" text-anchor="middle">12/30/2014</text>
<text x="764.8" y="359.9" font-size="11" text-anchor="middle" fill="#111">0.00</text>
<text x="806.8" y="359.9" font-size="11" text-anchor="middle" fill="#111">100.00</text>
<text x="849.1" y="359.9" font-size="11" text-anchor="middle" fill="#111">100.00</text>
<text x="891.2" y="359.9" font-size="11" text-anchor="middle" fill="#111">95.04</text>
<text x="933.2" y="359.9" font-size="11" text-anchor="middle" fill="#111">81.92</text>
<text x="975.2" y="359.9" font-size="11" text-anchor="middle" fill="#111">58.41</text>
<text x="697.1" y="347.8" font-size="11.5" font-weight="bold" text-anchor="middle">Start of</text>
<text x="697.1" y="360.8" font-size="11.5" font-weight="bold" text-anchor="middle">Water Year</text>
<text x="697.1" y="372.1" font-size="8.5" font-style="italic" text-anchor="middle">9/30/2014</text>
<text x="764.8" y="401.9" font-size="11" text-anchor="middle" fill="#111">0.00</text>
<text x="806.8" y="401.9" font-size="11" text-anchor="middle" fill="#111">100.00</text>
<text x="849.1" y="401.9" font-size="11" text-anchor="middle" fill="#111">100.00</text>
<text x="891.2" y="401.9" font-size="11" text-anchor="middle" fill="#111">95.42</text>
<text x="933.2" y="401.9" font-size="11" text-anchor="middle" fill="#111">81.92</text>
<text x="975.2" y="401.9" font-size="11" text-anchor="middle" fill="#111">58.41</text>
<text x="697.1" y="395.8" font-size="11.5" font-weight="bold" text-anchor="middle">One Year Ago</text>
<text x="697.1" y="408.8" font-size="8.5" font-style="italic" text-anchor="middle">9/2/2014</text>
<text x="190.9" y="50.8" font-size="23.2" textLength="258.8" lengthAdjust="spacingAndGlyphs" font-weight="bold" font-style="italic">U.S. Drought Monitor</text>
<text x="225.2" y="99.1" font-size="39.6" textLength="189.4" lengthAdjust="spacingAndGlyphs" font-weight="bold">California</text>
<text x="710" y="55.2" font-size="25" textLength="226.5" lengthAdjust="spacingAndGlyphs" font-weight="bold">September 1, 2015</text>
<text x="698.7" y="78.2" font-size="15.4" textLength="250.2" lengthAdjust="spacingAndGlyphs" font-weight="bold" font-style="italic">(Released Thursday, Sep. 3, 2015)</text>
<text x="764.5" y="101.2" font-size="16.5" textLength="118.5" lengthAdjust="spacingAndGlyphs" >Valid 8 a.m. EDT</text>
<text x="760.5" y="133.6" font-size="13.8" textLength="214.1" lengthAdjust="spacingAndGlyphs" font-style="italic" fill="#3a3a3a">Drought Conditions (Percent Area)</text>
<text x="651.6" y="446" font-size="16.8" font-style="italic" fill="#222" textLength="61.8" lengthAdjust="spacingAndGlyphs">Intensity:</text>
<rect x="651.8" y="447.6" width="61.8" height="0.9" fill="#222"/>
<rect x="651.4" y="456" width="32.1" height="15.2" fill="#ffff00"/>
<text x="690.2" y="469.6" font-size="10.6" fill="#111" textLength="93.1" lengthAdjust="spacing">D0 Abnormally Dry</text>
<rect x="651.4" y="480.4" width="32.1" height="15.2" fill="#fcd37f"/>
<text x="690.2" y="494.0" font-size="10.6" fill="#111" textLength="106.8" lengthAdjust="spacing">D1 Moderate Drought</text>
<rect x="651.4" y="504.5" width="32.1" height="15.2" fill="#ffaa00"/>
<text x="690.2" y="518.1" font-size="10.6" fill="#111" textLength="95.4" lengthAdjust="spacing">D2 Severe Drought</text>
<rect x="820.3" y="456" width="32.1" height="15.2" fill="#e60000"/>
<text x="859.1" y="469.6" font-size="10.6" fill="#111" textLength="101.0" lengthAdjust="spacing">D3 Extreme Drought</text>
<rect x="820.3" y="480.4" width="32.1" height="15.2" fill="#730000"/>
<text x="859.1" y="494.0" font-size="10.6" fill="#111" textLength="117.0" lengthAdjust="spacing">D4 Exceptional Drought</text>
<text x="651.4" y="540.5" font-size="11.8" font-style="italic" fill="#111" textLength="301.9" lengthAdjust="spacing">The Drought Monitor focuses on broad-scale conditions.</text>
<text x="651.4" y="554.6" font-size="11.8" font-style="italic" fill="#111" textLength="325.6" lengthAdjust="spacing">Local conditions may vary. See accompanying text summary</text>
<text x="651.4" y="568.7" font-size="11.8" font-style="italic" fill="#111" textLength="126.2" lengthAdjust="spacing">for forecast statements.</text>
<text x="651.6" y="596.1" font-size="15.2" textLength="55.4" lengthAdjust="spacingAndGlyphs" font-weight="bold">Author:</text>
<text x="651.6" y="614.2" font-size="15" textLength="104.4" lengthAdjust="spacingAndGlyphs" font-style="italic" fill="#3a3a3a">Anthony Artusa</text>
<text x="651.6" y="634.1" font-size="15" textLength="168.9" lengthAdjust="spacingAndGlyphs" font-style="italic" fill="#3a3a3a">NOAA/NWS/NCEP/CPC</text>
<text x="693.2" y="764.8" font-size="18.2" textLength="259.4" lengthAdjust="spacingAndGlyphs" font-weight="bold">http://droughtmonitor.unl.edu/</text>
<g id="usda">
<text x="654.2" y="701.5" font-family="Liberation Serif, Times New Roman, serif" font-weight="bold" font-size="30.6" fill="#0d0d6b" textLength="72.4" lengthAdjust="spacingAndGlyphs">USDA</text>
<g fill="#0f6b14">
<path d="M655.5 720.3 C674.4 713.7 693.7 711 726 709.7 L726 729.5 L655.5 729.5 Z"/>
<path d="M655.5 715 C674.4 709.3 692 706.6 726 704.6 L726 707.7 C693.7 708.8 674.4 711 655.5 717.2 Z"/>
<path d="M655.5 704.6 L669.1 705.1 L677.9 707.6 L655.5 707.3 Z"/>
<path d="M655.5 709.6 L670.9 709.9 L665.6 710.9 L655.5 711.8 Z"/>
</g>
</g>
<g id="ndmc" fill="none" stroke-linecap="round" stroke-linejoin="round">
<defs><linearGradient id="ng" gradientUnits="userSpaceOnUse" x1="745" y1="0" x2="855" y2="0">
<stop offset="0" stop-color="#f7a11a"/><stop offset="0.2" stop-color="#ef6a1c"/><stop offset="0.28" stop-color="#e02a20"/><stop offset="0.36" stop-color="#ee5a1c"/><stop offset="0.5" stop-color="#f3a21e"/><stop offset="0.62" stop-color="#cdb032"/><stop offset="0.78" stop-color="#7fb03c"/><stop offset="1" stop-color="#2a9e55"/></linearGradient></defs>
<path d="M745.5 715.6 C747 713.8 749 714 750.8 715 C752.5 716 754.5 715.6 756 714.4 C757.5 713.2 759.5 713.4 761 714.6 C763 716 765.5 715.4 767 713.6 C768.5 711.6 770 710.2 771 710.4 L775.7 728 L779.8 708.6 L784.5 714.3 C786 712.8 788 712.8 789.5 714.2 C791 715.6 793 715.4 794.5 714.2 C796 713 798 713.2 799.5 714.4 C801 715.6 803 715.6 804.5 714.6 C806.5 713.2 808.5 712.2 810.5 711.8 C812.5 711.2 814.5 710.6 816.2 710.8 C820 711.4 824 714.8 829.6 715.4 C834 714.8 839 710.8 843.1 710.2 C847 710.4 851 713 854.3 714.8" stroke="url(#ng)" stroke-width="2.3"/>
<g stroke="#bfae30" stroke-width="2.3"><path d="M816.2 710.5 L816.2 690.5 M816.2 698.5 L810.6 692.6 M816.2 696.5 L821.5 691.8"/><path d="M810.3 700.2 C806 700.6 803 698.5 803.6 694.5 C802.6 690 804 687.5 806 686.4 C807 683 810.5 681 815.5 681 C819.5 681 822 683 823 685.2" stroke="#d8a82a"/><path d="M821.5 698.6 C822.5 700 824 700.4 825 699.8"/></g>
<g stroke="#86b23a" stroke-width="2.3"><path d="M829.6 715.2 L829.6 690" stroke="#4fa845"/><path d="M829.6 698 L823.6 692.4"/><path d="M822.2 687 C823 683.5 826 681 830.8 681 C834.5 681 836.8 683 837.8 685.2"/><path d="M824.8 700.6 C821.2 699.6 820.4 696.4 821.6 694"/></g>
<g stroke="#2e9e4f" stroke-width="2.3"><path d="M843.1 710 L843.1 690.4 M843.1 698 L837.4 692.8 M843.1 698 L849.4 692.8"/><path d="M834 699.9 C831.4 697 831.8 691 833.6 688 C834.2 684 838 681.4 843.1 681 C848 681 852 683.5 854.1 688 C856 691 856 696 853.4 699 C852 700.8 850 701.1 848.4 700.9"/></g>
<text x="744.5" y="726.7" font-family="Liberation Sans, Arial, sans-serif" font-weight="bold" font-size="7.8" fill="#0c0c1e" stroke="#0c0c1e" stroke-width="0.2" textLength="23.2" lengthAdjust="spacingAndGlyphs">National</text>
<text x="781" y="726.7" font-family="Liberation Sans, Arial, sans-serif" font-weight="bold" font-size="7.8" fill="#0c0c1e" stroke="#0c0c1e" stroke-width="0.2" textLength="74.6" lengthAdjust="spacingAndGlyphs">Drought Mitigation Center</text>
</g>
<g id="doc">
<circle cx="899.2" cy="705.6" r="22.2" fill="#fff" stroke="#2f8fdc" stroke-width="4.6"/>
<circle cx="899.2" cy="705.6" r="22.2" fill="none" stroke="#bfe0f7" stroke-width="1.6" stroke-dasharray="1.2 1.6"/>
<circle cx="899.2" cy="705.6" r="24.4" fill="none" stroke="#1f6fc0" stroke-width="0.7"/>
<circle cx="899.2" cy="705.6" r="19.7" fill="none" stroke="#1f6fc0" stroke-width="0.7"/>
<path d="M888.4 700.8 L910.2 700.8 L909.6 717.5 L899.3 722.4 L889 717.5 Z" fill="#f3c535" stroke="#3a5a70" stroke-width="0.6"/>
<path d="M888.4 700.8 L910.2 700.8 L909.9 710.8 L888.7 710.8 Z" fill="#3b93d6" stroke="#3a5a70" stroke-width="0.6"/>
<path d="M892 707.5 L906 707.5 L904.5 709.6 L893.5 709.6 Z M895 707 L896.5 703.5 L899 707 Z M899.5 707 L901 702.8 L904 707 Z" fill="#4a5a5a"/>
<path d="M899.3 711 L899.3 721" stroke="#555" stroke-width="1.1"/>
<path d="M892.3 689.8 C894.5 690.5 896.5 693 897.8 695.8 L899.3 693.2 L900.8 695.8 C902 693 904 690.5 906.3 689.8 C905.8 693.5 903.8 697.2 901.2 698.8 L897.3 698.8 C894.8 697.2 892.8 693.5 892.3 689.8 Z" fill="#b8862c"/>
<path d="M897.6 695.5 L901 695.5 L900.6 699.3 L898 699.3 Z" fill="#c0392b"/>
<rect x="896.6" y="699.2" width="5.4" height="1.5" fill="#333"/>
</g>
<g id="noaa">
<circle cx="968.2" cy="705.6" r="23.6" fill="none" stroke="#3c3cae" stroke-width="2" stroke-dasharray="1.1 1.3"/>
<circle cx="968.2" cy="705.6" r="21.2" fill="#1b9cea"/>
<path d="M950.6 693.6 A21.2 21.2 0 0 1 985.8 693.6 C981 698 977.5 703.5 973 707.2 L966.5 708 C961.5 703 956.5 697.5 950.6 693.6 Z" fill="#17177e"/>
<path d="M948.6 697.6 C950 695.2 951.5 694 953 694.6 C958 698 961.5 704 966.5 707.4 C970.5 707.8 974.5 706 977 702.5 C980 698.5 983 694 987.2 696.2 C983.5 697 981.5 701 978.5 704.8 C976.5 707.2 974.5 708.6 976.2 709.2 C973 710.2 969.5 710.8 966.5 712.6 C967.5 710.5 965.5 709.5 962.5 708 C957 704.8 953.5 699.5 948.6 697.6 Z" fill="#fff"/>
<text x="959.6" y="698.3" font-family="Liberation Sans, Arial, sans-serif" font-weight="bold" font-size="6.4" fill="#fff" textLength="16.6" lengthAdjust="spacingAndGlyphs">NOAA</text>
</g>

</svg>
</body></html>
